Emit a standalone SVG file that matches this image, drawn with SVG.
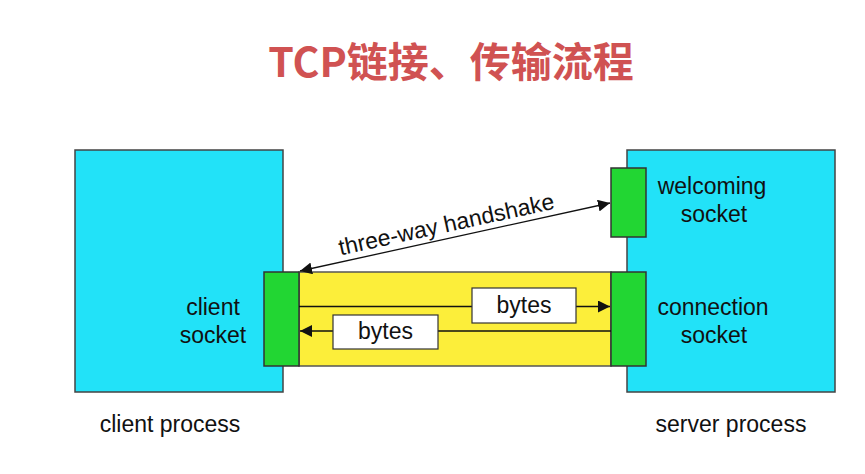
<svg xmlns="http://www.w3.org/2000/svg" width="865" height="474" viewBox="0 0 865 474">
<defs>
<style>
.proc{fill:#22e2f8;stroke:#444;stroke-width:1.5}
.sock{fill:#22d633;stroke:#333;stroke-width:1.5}
.pipe{fill:#fcee3a;stroke:#555;stroke-width:1.5}
.lbl{font-family:"Liberation Sans",Arial,sans-serif;font-size:23px;fill:#111;text-anchor:middle}
.box{fill:#fff;stroke:#333;stroke-width:1.2}
.ln{stroke:#111;stroke-width:1.3;fill:none}
</style>
<marker id="ah" viewBox="0 0 10 10" refX="10" refY="5" markerWidth="12" markerHeight="12" markerUnits="userSpaceOnUse" orient="auto-start-reverse">
<path d="M0,0 L10,5 L0,10 z" fill="#111"/>
</marker>
</defs>
<rect width="865" height="474" fill="#fff"/>
<text x="451" y="77" font-family="'Noto Sans CJK SC','Liberation Sans',sans-serif" font-weight="bold" font-size="41" fill="#d05252" text-anchor="middle">TCP链接、传输流程</text>
<g id="client-process">
<rect class="proc" x="75" y="150" width="208" height="242"/>
<text class="lbl" x="213" y="315">client</text>
<text class="lbl" x="213" y="343">socket</text>
</g>
<g id="server-process">
<rect class="proc" x="627" y="150" width="208" height="242"/>
<text class="lbl" x="712" y="194">welcoming</text>
<text class="lbl" x="714" y="222">socket</text>
<text class="lbl" x="713" y="315">connection</text>
<text class="lbl" x="714" y="343">socket</text>
</g>
<g id="pipe">
<rect class="pipe" x="299" y="272" width="312" height="94"/>
</g>
<g id="client-socket">
<rect class="sock" x="264" y="272" width="35" height="94"/>
</g>
<g id="welcoming-socket">
<rect class="sock" x="611" y="168" width="35" height="69"/>
</g>
<g id="connection-socket">
<rect class="sock" x="611" y="272" width="35" height="94"/>
</g>
<g id="connectors">
<line class="ln" x1="300" y1="271" x2="610" y2="203" marker-start="url(#ah)" marker-end="url(#ah)"/>
<line class="ln" x1="299" y1="306.5" x2="610" y2="306.5" marker-end="url(#ah)"/>
<line class="ln" x1="611" y1="331" x2="300" y2="331" marker-end="url(#ah)"/>
</g>
<g id="bytes-upper">
<rect class="box" x="472" y="288" width="104" height="35"/>
<text class="lbl" x="524" y="313" font-size="22">bytes</text>
</g>
<g id="bytes-lower">
<rect class="box" x="333" y="315" width="105" height="34"/>
<text class="lbl" x="385.5" y="339" font-size="22">bytes</text>
</g>
<text class="lbl" transform="translate(448,232) rotate(-12.3)">three-way handshake</text>
<text class="lbl" x="170" y="432">client process</text>
<text class="lbl" x="731" y="432">server process</text>
</svg>
